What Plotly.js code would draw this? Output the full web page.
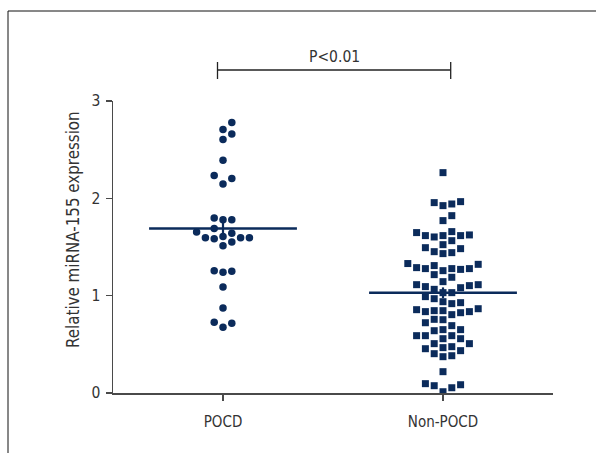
<!DOCTYPE html>
<html><head><meta charset="utf-8">
<script src="https://cdn.plot.ly/plotly-3.0.1.min.js"></script>
<style>html,body{margin:0;padding:0;background:#fff;} #chart{width:596px;height:453px;}</style>
</head><body><div id="chart"></div>
<script>
// ---------- data ----------
const categories = ['POCD', 'Non-POCD'];
const pocdValues = [2.778, 2.706, 2.662, 2.604, 2.392, 2.234, 2.203, 2.148,
  1.799, 1.781, 1.781, 1.689, 1.655, 1.641, 1.607, 1.596, 1.596, 1.596, 1.586,
  1.552, 1.514, 1.257, 1.251, 1.240, 1.089, 0.874, 0.727, 0.716, 0.675];
const nonPocdValues = [2.264,
  1.966, 1.942, 1.925, 1.956,
  1.822, 1.771,
  1.648, 1.624, 1.617, 1.603, 1.565, 1.617, 1.617, 1.658,
  1.493, 1.452, 1.432, 1.442, 1.483, 1.524,
  1.278, 1.278, 1.330, 1.270, 1.322, 1.216, 1.257, 1.189, 1.278, 1.288, 1.309,
  1.103, 1.093, 1.144, 1.065, 1.113, 1.031, 1.031, 1.082, 0.990, 1.113,
  0.969, 0.918, 0.928, 0.938,
  0.856, 0.836, 0.836, 0.805, 0.825, 0.757, 0.846, 0.846, 0.866,
  0.753, 0.722, 0.692,
  0.651, 0.640, 0.651,
  0.558, 0.589, 0.589, 0.589, 0.558,
  0.507, 0.476, 0.507,
  0.455, 0.435, 0.466,
  0.404, 0.373, 0.383,
  0.219,
  0.096, 0.075, 0.013, 0.054, 0.085];
const groupMeans = [1.69, 1.03];
const groupSEM = [0.10, 0.055];
const yTickValues = [0, 1, 2, 3];
const yAxisTitle = 'Relative miRNA-155 expression';
const significanceLabel = 'P<0.01';

// ---------- geometry / style ----------
const W = 596, H = 453;
const M = {l: 113, r: 43, t: 101, b: 60};
const xRange = [-0.5, 1.5], yRange = [0, 3];
const plotW = W - M.l - M.r, plotH = H - M.t - M.b;
const pxPerX = plotW / (xRange[1] - xRange[0]);
const pxPerY = plotH / (yRange[1] - yRange[0]);
const colStepPx = 8.8, minGapPx = 8.5;
const NAVY = '#0b2b5b';
const AXIS = '#4a4a4a';
const TEXT = '#333333';
const FONT = '"Liberation Sans Narrow", "DejaVu Sans Condensed", "Arial Narrow", sans-serif';
const px2paperX = px => (px - M.l) / plotW;
const px2paperY = py => (H - M.b - py) / plotH;
const x2paper = x => (x - xRange[0]) / (xRange[1] - xRange[0]);

// simple column beeswarm computed from values
function swarm(values, center) {
  const order = values.map((v, i) => i).sort((a, b) => values[a] - values[b]);
  const placed = {};
  const xs = new Array(values.length);
  for (const i of order) {
    const ypx = values[i] * pxPerY;
    for (let k = 0; ; k++) {
      const col = k === 0 ? 0 : (k % 2 === 1 ? (k + 1) / 2 : -k / 2);
      const list = placed[col] || [];
      if (list.every(y => Math.abs(y - ypx) >= minGapPx)) {
        list.push(ypx); placed[col] = list;
        xs[i] = center + col * colStepPx / pxPerX;
        break;
      }
    }
  }
  return xs;
}

const traces = [
  {x: swarm(pocdValues, 0), y: pocdValues, type: 'scatter', mode: 'markers',
   marker: {symbol: 'circle', size: 7.5, color: NAVY}, hoverinfo: 'y'},
  {x: swarm(nonPocdValues, 1), y: nonPocdValues, type: 'scatter', mode: 'markers',
   marker: {symbol: 'square', size: 7, color: NAVY}, hoverinfo: 'y'},
  {x: [0, 1], y: groupMeans, type: 'scatter', mode: 'markers',
   marker: {size: 1, opacity: 0},
   error_y: {type: 'data', array: groupSEM, visible: true, color: NAVY, thickness: 2.2, width: 0}}
];
const halfLine = 0.336;
groupMeans.forEach((m, i) => {
  traces.push({x: [i - halfLine, i + halfLine], y: [m, m], type: 'scatter', mode: 'lines',
    line: {color: NAVY, width: 2.6}, hoverinfo: 'skip'});
});

const bracketL = x2paper(-0.025), bracketR = x2paper(1.035);
const bracketY = px2paperY(70);
const shapes = [
  {type: 'line', xref: 'paper', yref: 'paper', x0: bracketL, x1: bracketR, y0: bracketY, y1: bracketY, line: {color: '#222', width: 1.3}},
  {type: 'line', xref: 'paper', yref: 'paper', x0: bracketL, x1: bracketL, y0: px2paperY(62), y1: px2paperY(79), line: {color: '#222', width: 1.3}},
  {type: 'line', xref: 'paper', yref: 'paper', x0: bracketR, x1: bracketR, y0: px2paperY(62), y1: px2paperY(79), line: {color: '#222', width: 1.3}},
  // outer frame (left and top edges)
  {type: 'line', xref: 'paper', yref: 'paper', x0: px2paperX(8), x1: px2paperX(8), y0: px2paperY(11), y1: px2paperY(H + 2), line: {color: '#111', width: 1}},
  {type: 'line', xref: 'paper', yref: 'paper', x0: px2paperX(8), x1: px2paperX(W + 2), y0: px2paperY(11), y1: px2paperY(11), line: {color: '#111', width: 1}}
];

const layout = {
  width: W, height: H, margin: M, showlegend: false,
  paper_bgcolor: '#fff', plot_bgcolor: '#fff',
  font: {family: FONT, size: 15, color: TEXT},
  xaxis: {range: xRange, tickvals: [0, 1], ticktext: categories, showgrid: false, zeroline: false,
    showline: true, linecolor: AXIS, linewidth: 1.5, ticks: 'outside', ticklen: 6, tickwidth: 1.5, tickcolor: AXIS,
    tickfont: {family: FONT, size: 15, color: TEXT}, ticklabelstandoff: 8, fixedrange: true},
  yaxis: {range: yRange, tickvals: yTickValues, showgrid: false, zeroline: false,
    showline: true, linecolor: AXIS, linewidth: 1.5, ticks: 'outside', ticklen: 6, tickwidth: 1.5, tickcolor: AXIS,
    tickfont: {family: FONT, size: 15.5, color: TEXT}, ticklabelstandoff: 2, fixedrange: true},
  shapes: shapes,
  annotations: [
    {text: significanceLabel, xref: 'paper', yref: 'paper', x: (bracketL + bracketR) / 2, y: px2paperY(57),
     xanchor: 'center', yanchor: 'middle', showarrow: false, font: {family: FONT, size: 15.5, color: TEXT}},
    {text: yAxisTitle, xref: 'paper', yref: 'paper', x: px2paperX(73), y: px2paperY(230), textangle: -90,
     xanchor: 'center', yanchor: 'middle', showarrow: false, font: {family: FONT, size: 16.8, color: TEXT}}
  ]
};

Plotly.newPlot('chart', traces, layout, {displayModeBar: false, staticPlot: true});
</script></body></html>
